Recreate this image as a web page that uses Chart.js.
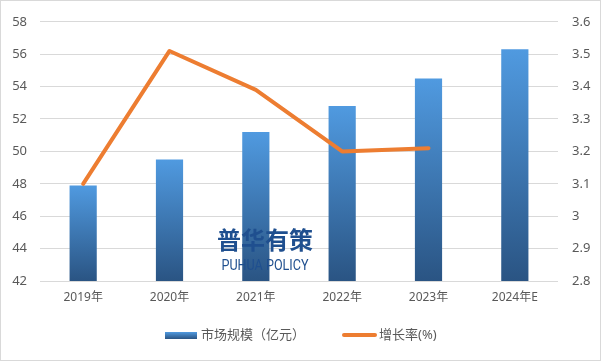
<!DOCTYPE html>
<html>
<head>
<meta charset="utf-8">
<script src="https://cdn.jsdelivr.net/npm/chart.js@4/dist/chart.umd.min.js"></script>
<style>
html,body{margin:0;padding:0;background:#fff;}
#wrap{width:601px;height:361px;position:relative;}
</style>
</head>
<body>
<div id="wrap"><canvas id="c" width="601" height="361"></canvas></div>
<script>
const categories = ['2019年','2020年','2021年','2022年','2023年','2024年E'];
const marketSize = [47.9, 49.5, 51.2, 52.8, 54.5, 56.3];
const growthRate = [3.1, 3.51, 3.39, 3.2, 3.21, null];
const leftAxis = {min: 42, max: 58, step: 2};
const rightAxis = {min: 2.8, max: 3.6, step: 0.1};
const seriesNames = ['市场规模（亿元）', '增长率(%)'];
const watermark = ['普华有策', 'PUHUA POLICY'];

const FONT = "'Noto Sans', 'Noto Sans CJK SC', sans-serif";
const TXT = '#595959';
const TOP_C = '#509ae0';
const BOT_C = '#2a5483';
const ORANGE = '#ED7D31';

function barGradient(context) {
  const chart = context.chart;
  const area = chart.chartArea;
  const ys = chart.scales.y;
  if (!area || !ys || context.raw == null) return TOP_C;
  const top = ys.getPixelForValue(context.raw);
  const bot = area.bottom;
  if (!isFinite(top) || !isFinite(bot) || bot <= top) return TOP_C;
  const g = chart.ctx.createLinearGradient(0, top, 0, bot);
  g.addColorStop(0, TOP_C);
  g.addColorStop(1, BOT_C);
  return g;
}

const decorPlugin = {
  id: 'decor',
  beforeDraw(chart) {
    const ctx = chart.ctx;
    ctx.save();
    ctx.fillStyle = '#fff';
    ctx.fillRect(0, 0, chart.width, chart.height);
    ctx.restore();
  },
  afterDatasetsDraw(chart) {
    const ctx = chart.ctx;
    ctx.save();
    ctx.fillStyle = '#1f4f8f';
    ctx.textAlign = 'center';
    ctx.textBaseline = 'middle';
    ctx.font = "bold 24px 'Noto Sans CJK SC', sans-serif";
    ctx.fillText(watermark[0], 265, 240);
    ctx.font = "14px 'Liberation Sans Narrow', 'Roboto', sans-serif";
    ctx.save();
    ctx.translate(265, 266);
    ctx.scale(0.9, 1);
    ctx.fillText(watermark[1], 0, 0);
    ctx.restore();
    ctx.restore();
  },
  afterDraw(chart) {
    const ctx = chart.ctx;
    ctx.save();
    const ly = 335;
    const g = ctx.createLinearGradient(0, ly - 3, 0, ly + 4);
    g.addColorStop(0, TOP_C);
    g.addColorStop(1, BOT_C);
    ctx.fillStyle = g;
    ctx.fillRect(165, ly - 3, 32, 7);
    ctx.fillStyle = TXT;
    ctx.font = "13px " + FONT;
    ctx.textBaseline = 'middle';
    ctx.textAlign = 'left';
    ctx.fillText(seriesNames[0], 201, ly);
    ctx.strokeStyle = ORANGE;
    ctx.lineWidth = 4;
    ctx.lineCap = 'round';
    ctx.beginPath();
    ctx.moveTo(344, ly);
    ctx.lineTo(375, ly);
    ctx.stroke();
    ctx.fillText(seriesNames[1], 379, ly);
    ctx.strokeStyle = '#d9d9d9';
    ctx.lineWidth = 1;
    ctx.strokeRect(0.5, 0.5, chart.width - 1, chart.height - 1);
    ctx.restore();
  }
};

new Chart(document.getElementById('c'), {
  data: {
    labels: categories,
    datasets: [
      {
        type: 'bar',
        label: seriesNames[0],
        data: marketSize,
        yAxisID: 'y',
        backgroundColor: barGradient,
        barPercentage: 0.315,
        categoryPercentage: 1,
        order: 2
      },
      {
        type: 'line',
        label: seriesNames[1],
        data: growthRate,
        yAxisID: 'y1',
        borderColor: ORANGE,
        borderWidth: 4,
        pointRadius: 0,
        tension: 0,
        spanGaps: false,
        order: 1,
        borderCapStyle: 'round',
        borderJoinStyle: 'round'
      }
    ]
  },
  options: {
    responsive: false,
    animation: false,
    devicePixelRatio: 1,
    layout: {padding: {top: 11, left: 0, right: 0, bottom: 0}},
    plugins: {legend: {display: false}, tooltip: {enabled: false}},
    scales: {
      x: {
        grid: {display: false, drawTicks: false},
        border: {display: false},
        ticks: {color: TXT, font: {family: FONT, size: 12}, padding: 9},
        afterFit(s) { s.height = 80; }
      },
      y: {
        position: 'left',
        min: leftAxis.min, max: leftAxis.max,
        grid: {color: '#d9d9d9', drawTicks: false},
        border: {display: false},
        ticks: {stepSize: leftAxis.step, color: TXT, font: {family: FONT, size: 13}, padding: 13},
        afterFit(s) { s.width = 40; }
      },
      y1: {
        position: 'right',
        min: rightAxis.min, max: rightAxis.max,
        grid: {display: false, drawTicks: false},
        border: {display: false},
        ticks: {
          stepSize: rightAxis.step, color: TXT, font: {family: FONT, size: 13}, padding: 14,
          callback: v => String(Number(v.toFixed(1)))
        },
        afterFit(s) { s.width = 43; }
      }
    }
  },
  plugins: [decorPlugin]
});
</script>
</body>
</html>
